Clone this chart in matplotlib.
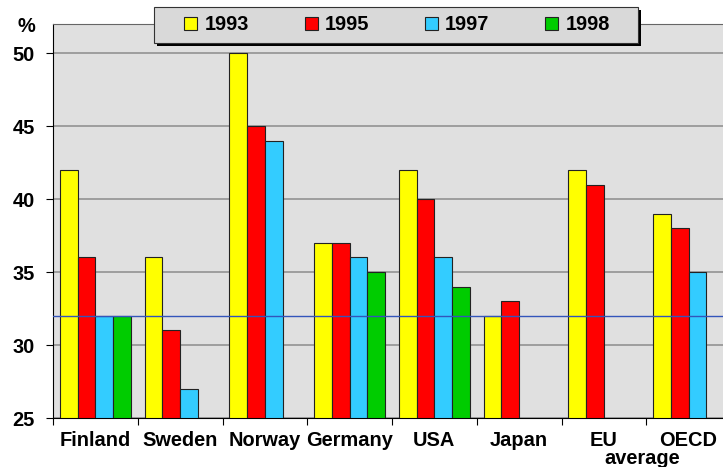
import matplotlib.pyplot as plt
import numpy as np
from matplotlib.patches import Rectangle

plt.rcParams['font.family'] = ['Liberation Sans', 'DejaVu Sans']
plt.rcParams['font.weight'] = 'bold'
plt.rcParams['font.size'] = 14.4

countries = ['Finland', 'Sweden', 'Norway', 'Germany', 'USA', 'Japan', 'EU', 'OECD']
years = ['1993', '1995', '1997', '1998']
v1993 = [42, 36, 50, 37, 42, 32, 42, 39]
v1995 = [36, 31, 45, 37, 40, 33, 41, 38]
v1997 = [32, 27, 44, 36, 36, np.nan, np.nan, 35]
v1998 = [32, np.nan, np.nan, 35, 34, np.nan, np.nan, np.nan]
ref_level = 32
colors = ['#FFFF00', '#FF0000', '#33CCFF', '#00CC00']

W, H = 723, 467
fig = plt.figure(figsize=(W/100, H/100), dpi=100)
ax = fig.add_axes([53/W, 49/H, 678/W, 394/H])
ax.set_facecolor('#E0E0E0')

x = np.arange(len(countries))
w = 0.21
for i, (vals, c, yr) in enumerate(zip([v1993, v1995, v1997, v1998], colors, years)):
    vals = np.array(vals, dtype=float)
    ok = ~np.isnan(vals)
    ax.bar(x[ok] + (i - 1.5)*w, vals[ok] - 25, bottom=25, width=w, color=c,
           edgecolor='#222222', linewidth=0.8, zorder=3, label=yr)

ax.axhline(ref_level, color='#3355BB', linewidth=1.0, zorder=4)

ax.set_ylim(25, 52)
ax.set_xlim(-0.5, len(countries) - 0.5)
ax.set_yticks([25, 30, 35, 40, 45, 50])
ax.yaxis.grid(True, color='#999999', linewidth=1.3, zorder=1)
ax.set_axisbelow(True)

ax.set_xticks(np.arange(len(countries) + 1) - 0.5)
ax.set_xticklabels([])
ax.set_xticks(x, minor=True)
ax.set_xticklabels(countries, minor=True, fontweight='bold')
ax.tick_params(axis='x', which='minor', length=0, pad=9)
ax.tick_params(axis='x', which='major', length=5, direction='out')
ax.tick_params(axis='y', length=5, direction='out', pad=8)
for lab in ax.get_yticklabels():
    lab.set_fontweight('bold')

ax.spines['top'].set_color('#666666')
ax.spines['right'].set_visible(False)

# second line of the OECD label, shifted left as in the original
fig.text(642/W, 1 - 459/H, 'average', ha='center', va='center', fontweight='bold')
fig.text(18/W, 1 - 27/H, '%', fontweight='bold', va='center')

# legend box with hard shadow
fig.patches.append(Rectangle((157/W, 1 - 46/H), 484/W, 36/H, transform=fig.transFigure,
                             facecolor='black', edgecolor='none', zorder=5))
fig.patches.append(Rectangle((154/W, 1 - 43/H), 484/W, 36/H, transform=fig.transFigure,
                             facecolor='#D9D9D9', edgecolor='#333333', linewidth=0.8,
                             zorder=6))
leg = fig.legend(loc='center', bbox_to_anchor=(397/W, 1 - 25/H), ncol=4,
                 frameon=False, handlelength=0.65, handleheight=0.65,
                 handletextpad=0.35, columnspacing=2.8, borderpad=0,
                 borderaxespad=0)
leg.set_zorder(7)
for t in leg.get_texts():
    t.set_fontweight('bold')

fig.savefig('out.png', dpi=100)
